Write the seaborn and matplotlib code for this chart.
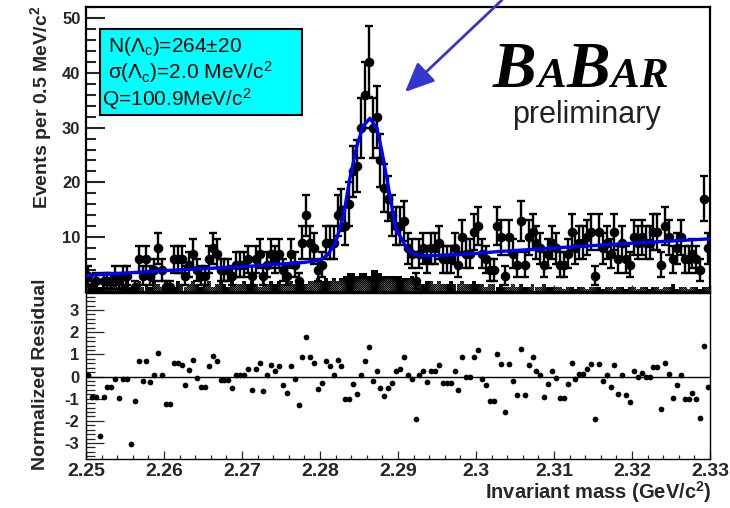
import numpy as np
import pandas as pd
import matplotlib
matplotlib.use("Agg")
import matplotlib.pyplot as plt
import seaborn as sns
from matplotlib.patches import Rectangle, FancyArrowPatch
from matplotlib.ticker import FixedLocator, MultipleLocator

# ---------------- data ----------------
mass_lo, mass_hi, bin_width = 2.25, 2.33, 0.0005

counts = [3, 1, 2, 0, 2, 2, 2, 3, 2, 3,
          3, 0, 1, 6, 3, 6, 3, 4, 8, 4,
          1, 1, 6, 6, 6, 3, 5, 7, 4, 3,
          3, 6, 8, 7, 4, 4, 4, 3, 5, 5,
          5, 6, 3, 6, 7, 3, 5, 7, 6, 7,
          4, 3, 7, 5, 2, 9, 14, 9, 8, 4,
          5, 9, 9, 9, 14, 15, 12, 16, 22, 23,
          30, 36, 42, 30, 32, 24, 19, 17, 14, 12,
          12, 13, 8, 7, 2, 7, 8, 6, 8, 8,
          9, 6, 6, 6, 8, 5, 10, 7, 7, 11,
          12, 7, 6, 4, 4, 12, 10, 3, 10, 7,
          5, 13, 5, 10, 11, 9, 8, 5, 7, 9,
          8, 5, 5, 7, 11, 8, 9, 9, 10, 11,
          3, 11, 8, 9, 7, 11, 6, 9, 6, 5,
          10, 9, 10, 9, 9, 11, 11, 5, 12, 10,
          6, 8, 10, 6, 6, 7, 6, 4, 17, 8]

residuals = [0.05, -0.9, -0.9, -2.7, -0.9, -0.48, -0.48, -0.12, -0.97, -0.12,
             -0.12, -3.03, -1.1, 0.68, -0.18, 0.68, -0.23, 0.08, 1.08, 0.08,
             -1.24, -1.24, 0.6, 0.6, 0.53, -0.38, 0.3, 0.75, -0.07, -0.45,
             -0.45, 0.48, 0.93, 0.68, -0.15, -0.15, -0.15, -0.53, 0.08, 0.08,
             0.08, 0.33, -0.6, 0.33, 0.6, -0.65, 0.05, 0.53, 0.27, 0.48,
             -0.38, -0.75, 0.48, -0.12, -1.27, 0.9, 1.77, 0.87, 0.63, -0.54,
             -0.27, 0.68, 0.48, 0.05, 0.75, 0.48, -1.02, -1.02, -0.33, -0.78,
             0.08, 0.71, 1.35, -0.18, 0.27, -0.53, -0.87, -0.53, -0.3, 0.27,
             0.33, 0.86, 0.05, -0.12, -1.9, 0.08, 0.27, -0.23, 0.27, 0.27,
             0.53, -0.27, -0.27, -0.3, 0.23, -0.6, 0.87, 0.0, 0.0, 0.87,
             1.2, -0.12, -0.4, -1.12, -1.12, 1.0, 0.57, -1.6, 0.55, -0.18,
             -0.82, 1.25, -0.82, 0.5, 0.87, 0.27, 0.05, -0.9, -0.33, 0.23,
             -0.07, -0.95, -0.95, -0.33, 0.63, -0.12, 0.12, 0.12, 0.33, 0.55,
             -1.9, 0.55, -0.18, 0.08, -0.48, 0.5, -0.78, 0.05, -0.82, -1.15,
             0.23, -0.02, 0.18, 0.0, 0.0, 0.45, 0.45, -1.48, 0.6, 0.12,
             -0.95, -0.38, 0.08, -1.02, -1.02, -0.72, -1.02, -1.85, 1.37, -0.48]

background_hist = [1.5, 1, 2, 1, 1.5, 1, 2, 1.5, 1, 1.5, 2, 1, 1.5, 2, 1, 1.5, 1, 2, 1.5, 1,
                   2, 1.5, 1, 2, 1.5, 1, 1.5, 2, 1.5, 1, 1.5, 2, 1, 1.5, 2, 1.5, 1, 2, 1.5, 1.5,
                   2, 1.5, 2, 1.5, 1, 2, 1.5, 2, 1.5, 2, 1.5, 2, 2, 1.5, 2, 2, 1.5, 2, 2, 2.5,
                   2, 2.5, 2, 2.5, 2, 2.5, 3, 3.5, 3.5, 3, 3.5, 3.5, 3, 4, 4, 3.5, 3, 3, 3, 3,
                   3, 2.5, 2.5, 3, 2, 2, 1.5, 2, 2, 1.5, 2, 1.5, 1.5, 2, 1.5, 1.5, 2, 1.5, 1.5, 2,
                   1.5, 1.5, 1, 1.5, 1.5, 1, 1.5, 1, 1, 1.5, 1, 1.5, 1, 1, 1.5, 1, 1, 1.5, 1, 1,
                   1, 1, 0.5, 1, 1, 0.5, 1, 1, 0.5, 1, 1, 1, 0.5, 1, 1, 0.5, 1, 1, 0.5, 1,
                   1, 0.5, 1, 1, 0.5, 1, 1, 0.5, 1, 1, 1.5, 0.5, 1, 1, 0.5, 1, 1, 0.5, 1, 1]

fit_mass = [2.250, 2.260, 2.270, 2.278, 2.2800, 2.2810, 2.2820, 2.2830, 2.2838,
            2.2847, 2.2855, 2.2864, 2.2873, 2.2879, 2.2886, 2.2892, 2.2898,
            2.2903, 2.2911, 2.2919, 2.2937, 2.2988, 2.3031, 2.3108, 2.3200, 2.3300]
fit_events = [3.0, 3.9, 4.6, 5.4, 5.8, 6.8, 9.0, 13.8, 20.5,
              26.5, 30.2, 31.7, 29.9, 25.9, 20.5, 15.6, 11.3,
              10.1, 8.0, 6.9, 6.6, 6.9, 7.4, 8.1, 8.9, 9.7]

x_ticks = [2.25, 2.26, 2.27, 2.28, 2.29, 2.30, 2.31, 2.32, 2.33]
x_tick_labels = ["2.25", "2.26", "2.27", "2.28", "2.29", "2.3", "2.31", "2.32", "2.33"]
top_y_ticks = [10, 20, 30, 40, 50]
res_y_ticks = [-3, -2, -1, 0, 1, 2, 3]
box_lines = ["N(Λ$_\\mathrm{c}$)=264±20",
             "σ(Λ$_\\mathrm{c}$)=2.0 MeV/c$^\\mathrm{2}$",
             "Q=100.9MeV/c$^\\mathrm{2}$"]
logo_parts = [("B", 47), ("A", 31), ("B", 47), ("A", 31), ("R", 31)]

# ---------------- style ----------------
sns.set_theme(style="ticks")
plt.rcParams.update({
    "axes.unicode_minus": False,
    "mathtext.fontset": "custom",
    "mathtext.rm": "Liberation Sans",
    "mathtext.it": "Liberation Sans:italic",
    "mathtext.bf": "Liberation Sans:bold",
    "hatch.linewidth": 0.6,
    "xtick.direction": "in",
    "ytick.direction": "in",
})
plt.rcParams["font.family"] = ["Liberation Sans", "DejaVu Sans"]

W, H = 730, 508
fig = plt.figure(figsize=(W / 100, H / 100), dpi=100)
fig.patch.set_facecolor("white")


def rect(l, t, r, b):
    return [l / W, 1 - b / H, (r - l) / W, (b - t) / H]


ax1 = fig.add_axes(rect(86, 7, 710, 292))
ax2 = fig.add_axes(rect(86, 293, 710, 459))

centers = mass_lo + bin_width * (np.arange(len(counts)) + 0.5)
df = pd.DataFrame({"mass": centers,
                   "events": np.array(counts, float),
                   "resid": residuals,
                   "bkg": background_hist})
df["err"] = np.sqrt(df["events"])
fit_df = pd.DataFrame({"mass": fit_mass, "events": fit_events})

# ---------------- top panel ----------------
ax1.bar(df["mass"], df["bkg"], width=bin_width, color="white", edgecolor="black",
        hatch="x" * 16, linewidth=0, zorder=1)
ax1.errorbar(df["mass"], df["events"], yerr=df["err"], fmt="none", ecolor="black",
             elinewidth=1.7, capsize=3, capthick=1.7, zorder=3)
sns.scatterplot(data=df, x="mass", y="events", ax=ax1, color="black", s=48,
                linewidth=0, zorder=4, legend=False)
sns.lineplot(data=fit_df, x="mass", y="events", ax=ax1, color="#0000ff",
             linewidth=2.4, zorder=5, legend=False)

ax1.set_xlim(mass_lo, mass_hi)
ax1.set_ylim(0, 52)
ax1.set_xlabel("")
ax1.set_ylabel("")
ax1.yaxis.set_major_locator(FixedLocator(top_y_ticks))
ax1.yaxis.set_minor_locator(MultipleLocator(2))
ax1.xaxis.set_major_locator(FixedLocator(x_ticks))
ax1.xaxis.set_minor_locator(MultipleLocator(0.002))
ax1.tick_params(axis="y", which="major", length=14, width=1.5, labelsize=12, pad=4,
                left=True, right=False)
ax1.tick_params(axis="y", which="minor", length=7, width=1.5, left=True, right=False)
ax1.tick_params(axis="x", which="major", length=5, width=1, labelbottom=False)
ax1.tick_params(axis="x", which="minor", length=2.5, width=1)
for lab in ax1.get_yticklabels():
    lab.set_fontweight("bold")
for sp in ax1.spines.values():
    sp.set_visible(True)
    sp.set_linewidth(1.6)
    sp.set_color("black")

# ---------------- bottom panel ----------------
ax2.axhline(0, color="black", linewidth=1.0, zorder=1)
sns.scatterplot(data=df, x="mass", y="resid", ax=ax2, color="black", s=17,
                linewidth=0, marker="o", zorder=3, legend=False)
ax2.set_xlim(mass_lo, mass_hi)
ax2.set_ylim(-3.72, 3.77)
ax2.set_xlabel("")
ax2.set_ylabel("")
ax2.yaxis.set_major_locator(FixedLocator(res_y_ticks))
ax2.yaxis.set_minor_locator(MultipleLocator(0.2))
ax2.xaxis.set_major_locator(FixedLocator(x_ticks))
ax2.set_xticklabels(x_tick_labels)
ax2.xaxis.set_minor_locator(MultipleLocator(0.002))
ax2.tick_params(axis="y", which="major", length=13, width=0.9, labelsize=12, pad=5,
                left=True, right=False)
ax2.tick_params(axis="y", which="minor", length=6.5, width=0.9, left=True, right=False)
ax2.tick_params(axis="x", which="major", length=5.5, width=0.9, labelsize=14, pad=3)
ax2.tick_params(axis="x", which="minor", length=2.7, width=0.9)
for lab in ax2.get_yticklabels() + ax2.get_xticklabels():
    lab.set_fontweight("bold")
for sp in ax2.spines.values():
    sp.set_visible(True)
    sp.set_linewidth(1.0)
    sp.set_color("black")

# ---------------- titles ----------------
fig.text(41 / W, 1 - 6 / H, "Events per 0.5 MeV/c$^\\mathbf{2}$", rotation=90,
         ha="center", va="top", fontsize=14, fontweight="bold")
fig.text(41 / W, 1 - 470 / H, "Normalized Residual", rotation=90,
         ha="center", va="bottom", fontsize=14, fontweight="bold")
fig.text(712 / W, 1 - 499 / H, "Invariant mass (GeV/c$^\\mathbf{2}$)",
         ha="right", va="baseline", fontsize=14.5, fontweight="bold")

# ---------------- fit result box ----------------
fig.add_artist(Rectangle((100 / W, 1 - 115 / H), 202 / W, 86 / H,
                         transform=fig.transFigure, facecolor="#00ffff",
                         edgecolor="black", linewidth=1.5, zorder=10))
for txt, x0, yb in zip(box_lines, [108, 108, 102], [52, 79, 106]):
    fig.text(x0 / W, 1 - yb / H, txt, ha="left", va="baseline", fontsize=15,
             color="black", zorder=11)

# ---------------- logo ----------------
fig.canvas.draw()
renderer = fig.canvas.get_renderer()
xpos = 493
for ch, size in logo_parts:
    t = fig.text(xpos / W, 1 - 87 / H, ch, fontsize=size, family="Liberation Serif",
                 fontweight="bold", style="italic", ha="left", va="baseline",
                 color="black")
    bb = t.get_window_extent(renderer)
    xpos = bb.x1 + 0.5
fig.text(586 / W, 1 - 123 / H, "preliminary", ha="center", va="baseline",
         fontsize=22, color="#222222")

# ---------------- arrow ----------------
arrow = FancyArrowPatch(posA=(502 / W, 1.0), posB=(405 / W, 1 - 92 / H),
                        transform=fig.transFigure,
                        arrowstyle="-|>,head_length=0.9,head_width=0.4",
                        mutation_scale=20, color="#3535d0", linewidth=2,
                        shrinkA=0, shrinkB=0, zorder=12)
fig.add_artist(arrow)

fig.savefig("out.png", dpi=100, facecolor="white")
